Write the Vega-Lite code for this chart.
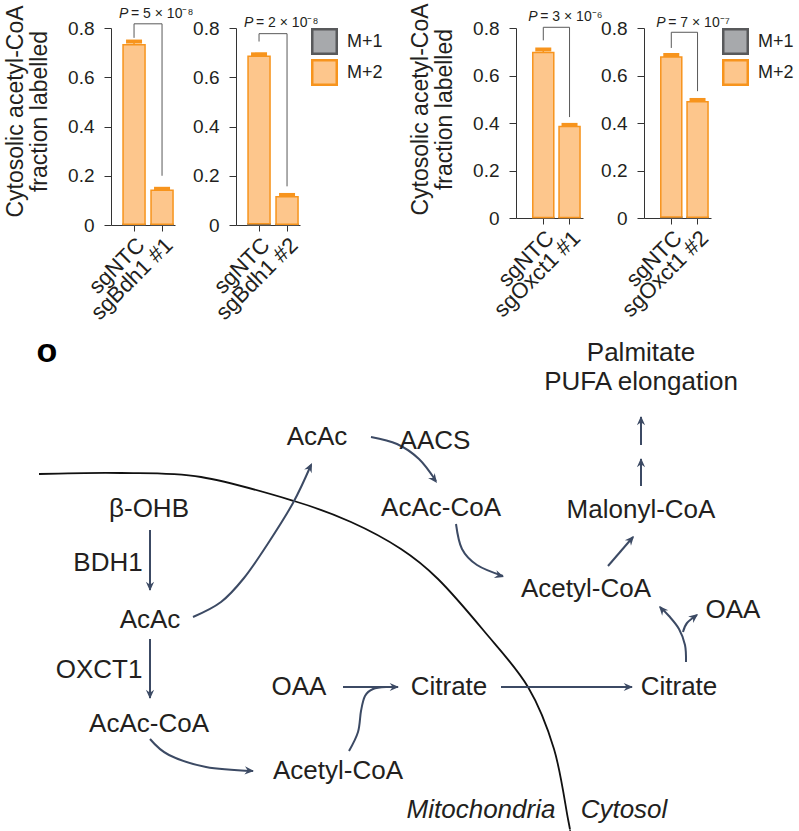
{
  "$schema": "https://vega.github.io/schema/vega-lite/v6.json",
  "padding": {"left": 4, "top": 2, "right": 0, "bottom": 0},
  "background": "white",
  "datasets": {
    "bars": [
      {"p": 1, "s": "sgNTC", "iso": "M+1", "k": 1, "v": 0.003},
      {"p": 1, "s": "sgNTC", "iso": "M+2", "k": 2, "v": 0.729},
      {"p": 1, "s": "sgBdh1 #1", "iso": "M+1", "k": 1, "v": 0.003},
      {"p": 1, "s": "sgBdh1 #1", "iso": "M+2", "k": 2, "v": 0.138},
      {"p": 2, "s": "sgNTC", "iso": "M+1", "k": 1, "v": 0.005},
      {"p": 2, "s": "sgNTC", "iso": "M+2", "k": 2, "v": 0.68},
      {"p": 2, "s": "sgBdh1 #2", "iso": "M+1", "k": 1, "v": 0.003},
      {"p": 2, "s": "sgBdh1 #2", "iso": "M+2", "k": 2, "v": 0.112},
      {"p": 3, "s": "sgNTC", "iso": "M+1", "k": 1, "v": 0.002},
      {"p": 3, "s": "sgNTC", "iso": "M+2", "k": 2, "v": 0.695},
      {"p": 3, "s": "sgOxct1 #1", "iso": "M+1", "k": 1, "v": 0.002},
      {"p": 3, "s": "sgOxct1 #1", "iso": "M+2", "k": 2, "v": 0.383},
      {"p": 4, "s": "sgNTC", "iso": "M+1", "k": 1, "v": 0.004},
      {"p": 4, "s": "sgNTC", "iso": "M+2", "k": 2, "v": 0.674},
      {"p": 4, "s": "sgOxct1 #2", "iso": "M+1", "k": 1, "v": 0.003},
      {"p": 4, "s": "sgOxct1 #2", "iso": "M+2", "k": 2, "v": 0.486}
    ],
    "err": [
      {"p": 1, "s": "sgNTC", "lo": 0.732, "hi": 0.745},
      {"p": 1, "s": "sgBdh1 #1", "lo": 0.141, "hi": 0.147},
      {"p": 2, "s": "sgNTC", "lo": 0.685, "hi": 0.693},
      {"p": 2, "s": "sgBdh1 #2", "lo": 0.115, "hi": 0.122},
      {"p": 3, "s": "sgNTC", "lo": 0.697, "hi": 0.709},
      {"p": 3, "s": "sgOxct1 #1", "lo": 0.385, "hi": 0.392},
      {"p": 4, "s": "sgNTC", "lo": 0.678, "hi": 0.686},
      {"p": 4, "s": "sgOxct1 #2", "lo": 0.489, "hi": 0.497}
    ],
    "brk": [
      {"p": 1, "s1": "sgNTC", "s2": "sgBdh1 #1", "top": 0.817, "yl": 0.76, "yr": 0.2, "yt": 0.84, "pv": "= 5 × 10⁻⁸"},
      {"p": 2, "s1": "sgNTC", "s2": "sgBdh1 #2", "top": 0.777, "yl": 0.745, "yr": 0.157, "yt": 0.805, "pv": "= 2 × 10⁻⁸"},
      {"p": 3, "s1": "sgNTC", "s2": "sgOxct1 #1", "top": 0.803, "yl": 0.748, "yr": 0.425, "yt": 0.828, "pv": "= 3 × 10⁻⁶"},
      {"p": 4, "s1": "sgNTC", "s2": "sgOxct1 #2", "top": 0.782, "yl": 0.716, "yr": 0.534, "yt": 0.803, "pv": "= 7 × 10⁻⁷"}
    ],
    "paths": [
      {"g": 1, "i": 0, "x": 149, "y": 531}, {"g": 1, "i": 1, "x": 149, "y": 591},
      {"g": 2, "i": 0, "x": 149, "y": 640}, {"g": 2, "i": 1, "x": 149, "y": 699},
      {"g": 3, "i": 0, "x": 192, "y": 618}, {"g": 3, "i": 1, "x": 220, "y": 603}, {"g": 3, "i": 2, "x": 243, "y": 579}, {"g": 3, "i": 3, "x": 266, "y": 546}, {"g": 3, "i": 4, "x": 292, "y": 504}, {"g": 3, "i": 5, "x": 310, "y": 466},
      {"g": 4, "i": 0, "x": 370, "y": 438}, {"g": 4, "i": 1, "x": 396, "y": 445}, {"g": 4, "i": 2, "x": 418, "y": 460}, {"g": 4, "i": 3, "x": 435, "y": 482},
      {"g": 5, "i": 0, "x": 455, "y": 525}, {"g": 5, "i": 1, "x": 461, "y": 550}, {"g": 5, "i": 2, "x": 476, "y": 566}, {"g": 5, "i": 3, "x": 502, "y": 577},
      {"g": 6, "i": 0, "x": 607, "y": 567}, {"g": 6, "i": 1, "x": 632, "y": 538},
      {"g": 7, "i": 0, "x": 640, "y": 487}, {"g": 7, "i": 1, "x": 640, "y": 460},
      {"g": 8, "i": 0, "x": 640, "y": 446}, {"g": 8, "i": 1, "x": 640, "y": 418},
      {"g": 9, "i": 0, "x": 149, "y": 740}, {"g": 9, "i": 1, "x": 168, "y": 756}, {"g": 9, "i": 2, "x": 205, "y": 768}, {"g": 9, "i": 3, "x": 252, "y": 772},
      {"g": 10, "i": 0, "x": 342, "y": 688}, {"g": 10, "i": 1, "x": 397, "y": 688},
      {"g": 11, "i": 0, "x": 348, "y": 752}, {"g": 11, "i": 1, "x": 357, "y": 733}, {"g": 11, "i": 2, "x": 360, "y": 712}, {"g": 11, "i": 3, "x": 364, "y": 697}, {"g": 11, "i": 4, "x": 372, "y": 690}, {"g": 11, "i": 5, "x": 385, "y": 688},
      {"g": 12, "i": 0, "x": 500, "y": 688}, {"g": 12, "i": 1, "x": 631, "y": 688},
      {"g": 13, "i": 0, "x": 685, "y": 663}, {"g": 13, "i": 1, "x": 684, "y": 646}, {"g": 13, "i": 2, "x": 678, "y": 630}, {"g": 13, "i": 3, "x": 668, "y": 617}, {"g": 13, "i": 4, "x": 659, "y": 608},
      {"g": 14, "i": 0, "x": 682, "y": 633}, {"g": 14, "i": 1, "x": 686, "y": 624}, {"g": 14, "i": 2, "x": 696, "y": 616}
    ],
    "heads": [
      {"x": 149, "y": 592, "a": 180}, {"x": 149, "y": 700, "a": 180},
      {"x": 311, "y": 464, "a": 26}, {"x": 436, "y": 484, "a": 143},
      {"x": 503, "y": 578, "a": 108}, {"x": 633, "y": 537, "a": 41},
      {"x": 640, "y": 459, "a": 0}, {"x": 640, "y": 417, "a": 0},
      {"x": 253, "y": 772, "a": 94}, {"x": 398, "y": 688, "a": 90},
      {"x": 632, "y": 688, "a": 90}, {"x": 658, "y": 607, "a": 318},
      {"x": 697, "y": 615, "a": 52}
    ],
    "membrane": [
      {"i": 0, "x": 38, "y": 475}, {"i": 1, "x": 120, "y": 474}, {"i": 2, "x": 200, "y": 478},
      {"i": 3, "x": 293, "y": 502}, {"i": 4, "x": 350, "y": 523}, {"i": 5, "x": 400, "y": 550},
      {"i": 6, "x": 437, "y": 580}, {"i": 7, "x": 483, "y": 632}, {"i": 8, "x": 527, "y": 688},
      {"i": 9, "x": 553, "y": 750}, {"i": 10, "x": 567, "y": 820}, {"i": 11, "x": 569, "y": 831}
    ],
    "labels": [
      {"t": "AcAc", "x": 316, "y": 438}, {"t": "AACS", "x": 434, "y": 442},
      {"t": "AcAc-CoA", "x": 440, "y": 509}, {"t": "Palmitate", "x": 640, "y": 354},
      {"t": "PUFA elongation", "x": 640, "y": 383}, {"t": "Malonyl-CoA", "x": 640, "y": 511},
      {"t": "Acetyl-CoA", "x": 585, "y": 590}, {"t": "OAA", "x": 732, "y": 611},
      {"t": "Citrate", "x": 678, "y": 688}, {"t": "Citrate", "x": 448, "y": 688},
      {"t": "OAA", "x": 298, "y": 688}, {"t": "Acetyl-CoA", "x": 337, "y": 772},
      {"t": "AcAc-CoA", "x": 148, "y": 725}, {"t": "OXCT1", "x": 98, "y": 671},
      {"t": "AcAc", "x": 149, "y": 621}, {"t": "BDH1", "x": 107, "y": 564},
      {"t": "β-OHB", "x": 148, "y": 510}
    ],
    "italic": [
      {"t": "Mitochondria", "x": 480, "y": 811}, {"t": "Cytosol", "x": 623, "y": 811}
    ],
    "panel": [
      {"t": "o", "x": 46, "y": 353}
    ]
  },
  "spacing": 10,
  "vconcat": [
    {
      "spacing": 61,
      "bounds": "flush",
      "resolve": {
        "scale": {"fill": "independent", "stroke": "independent"},
        "legend": {"fill": "independent", "stroke": "independent"}
      },
      "hconcat": [
        {
          "width": 64, "height": 197,
          "layer": [
            {"data": {"name": "bars"}, "transform": [{"filter": "datum.p == 1"}],
             "mark": {"type": "bar", "strokeWidth": 1.5},
             "encoding": {
               "x": {"field": "s", "type": "nominal", "scale": {"domain": ["sgNTC", "sgBdh1 #1"], "paddingInner": 0.214, "paddingOuter": 0.25, "align": 0.86}, "axis": {"title": null}},
               "y": {"field": "v", "type": "quantitative", "stack": "zero", "scale": {"domain": [0, 0.8], "nice": false},
                     "axis": {"values": [0, 0.2, 0.4, 0.6, 0.8], "labelExpr": "datum.value == 0 ? '0' : format(datum.value, '.1f')", "title": ["Cytosolic acetyl-CoA", "fraction labelled"], "titleY": 83}},
               "fill": {"field": "iso", "type": "nominal", "scale": {"domain": ["M+1", "M+2"], "range": ["#A7A9AC", "#FDC68C"]}, "legend": null},
               "stroke": {"field": "iso", "type": "nominal", "scale": {"domain": ["M+1", "M+2"], "range": ["#58595B", "#F7941D"]}, "legend": null},
               "order": {"field": "k", "type": "quantitative"}
             }},
            {"data": {"name": "err"}, "transform": [{"filter": "datum.p == 1"}],
             "mark": {"type": "rule", "color": "#F7941D", "strokeWidth": 1.5},
             "encoding": {"x": {"field": "s", "type": "nominal", "scale": {"domain": ["sgNTC", "sgBdh1 #1"]}}, "y": {"field": "lo", "type": "quantitative", "scale": {"domain": [0, 0.8], "nice": false}}, "y2": {"field": "hi"}}},
            {"data": {"name": "err"}, "transform": [{"filter": "datum.p == 1"}],
             "mark": {"type": "tick", "color": "#F7941D", "thickness": 4, "size": 16, "opacity": 1},
             "encoding": {"x": {"field": "s", "type": "nominal", "scale": {"domain": ["sgNTC", "sgBdh1 #1"]}}, "y": {"field": "hi", "type": "quantitative", "scale": {"domain": [0, 0.8], "nice": false}}}},
            {"data": {"name": "brk"}, "transform": [{"filter": "datum.p == 1"}],
             "mark": {"type": "rule", "color": "#595959", "strokeWidth": 1},
             "encoding": {"x": {"field": "s1", "type": "nominal", "scale": {"domain": ["sgNTC", "sgBdh1 #1"]}}, "x2": {"field": "s2"}, "y": {"field": "top", "type": "quantitative", "scale": {"domain": [0, 0.8], "nice": false}}}},
            {"data": {"name": "brk"}, "transform": [{"filter": "datum.p == 1"}],
             "mark": {"type": "rule", "color": "#595959", "strokeWidth": 1},
             "encoding": {"x": {"field": "s1", "type": "nominal", "scale": {"domain": ["sgNTC", "sgBdh1 #1"]}}, "y": {"field": "yl", "type": "quantitative", "scale": {"domain": [0, 0.8], "nice": false}}, "y2": {"field": "top"}}},
            {"data": {"name": "brk"}, "transform": [{"filter": "datum.p == 1"}],
             "mark": {"type": "rule", "color": "#595959", "strokeWidth": 1},
             "encoding": {"x": {"field": "s2", "type": "nominal", "scale": {"domain": ["sgNTC", "sgBdh1 #1"]}}, "y": {"field": "yr", "type": "quantitative", "scale": {"domain": [0, 0.8], "nice": false}}, "y2": {"field": "top"}}},
            {"data": {"name": "brk"}, "transform": [{"filter": "datum.p == 1"}],
             "mark": {"type": "text", "align": "left", "dx": -15, "baseline": "alphabetic", "fontSize": 14, "fontStyle": "italic", "color": "#231F20"},
             "encoding": {"x": {"field": "s1", "type": "nominal", "scale": {"domain": ["sgNTC", "sgBdh1 #1"]}}, "y": {"field": "yt", "type": "quantitative", "scale": {"domain": [0, 0.8], "nice": false}}, "text": {"value": "P"}}},
            {"data": {"name": "brk"}, "transform": [{"filter": "datum.p == 1"}],
             "mark": {"type": "text", "align": "left", "dx": -3, "baseline": "alphabetic", "fontSize": 14, "color": "#231F20"},
             "encoding": {"x": {"field": "s1", "type": "nominal", "scale": {"domain": ["sgNTC", "sgBdh1 #1"]}}, "y": {"field": "yt", "type": "quantitative", "scale": {"domain": [0, 0.8], "nice": false}}, "text": {"field": "pv"}}}
          ]
        },
        {
          "width": 64, "height": 197,
          "layer": [
            {"data": {"name": "bars"}, "transform": [{"filter": "datum.p == 2"}],
             "mark": {"type": "bar", "strokeWidth": 1.5},
             "encoding": {
               "x": {"field": "s", "type": "nominal", "scale": {"domain": ["sgNTC", "sgBdh1 #2"], "paddingInner": 0.214, "paddingOuter": 0.25, "align": 0.86}, "axis": {"title": null}},
               "y": {"field": "v", "type": "quantitative", "stack": "zero", "scale": {"domain": [0, 0.8], "nice": false},
                     "axis": {"values": [0, 0.2, 0.4, 0.6, 0.8], "labelExpr": "datum.value == 0 ? '0' : format(datum.value, '.1f')", "title": null}},
               "fill": {"field": "iso", "type": "nominal", "scale": {"domain": ["M+1", "M+2"], "range": ["#A7A9AC", "#FDC68C"]}, "legend": {"title": null}},
               "stroke": {"field": "iso", "type": "nominal", "scale": {"domain": ["M+1", "M+2"], "range": ["#58595B", "#F7941D"]}, "legend": {"title": null}},
               "order": {"field": "k", "type": "quantitative"}
             }},
            {"data": {"name": "err"}, "transform": [{"filter": "datum.p == 2"}],
             "mark": {"type": "rule", "color": "#F7941D", "strokeWidth": 1.5},
             "encoding": {"x": {"field": "s", "type": "nominal", "scale": {"domain": ["sgNTC", "sgBdh1 #2"]}}, "y": {"field": "lo", "type": "quantitative", "scale": {"domain": [0, 0.8], "nice": false}}, "y2": {"field": "hi"}}},
            {"data": {"name": "err"}, "transform": [{"filter": "datum.p == 2"}],
             "mark": {"type": "tick", "color": "#F7941D", "thickness": 4, "size": 16, "opacity": 1},
             "encoding": {"x": {"field": "s", "type": "nominal", "scale": {"domain": ["sgNTC", "sgBdh1 #2"]}}, "y": {"field": "hi", "type": "quantitative", "scale": {"domain": [0, 0.8], "nice": false}}}},
            {"data": {"name": "brk"}, "transform": [{"filter": "datum.p == 2"}],
             "mark": {"type": "rule", "color": "#595959", "strokeWidth": 1},
             "encoding": {"x": {"field": "s1", "type": "nominal", "scale": {"domain": ["sgNTC", "sgBdh1 #2"]}}, "x2": {"field": "s2"}, "y": {"field": "top", "type": "quantitative", "scale": {"domain": [0, 0.8], "nice": false}}}},
            {"data": {"name": "brk"}, "transform": [{"filter": "datum.p == 2"}],
             "mark": {"type": "rule", "color": "#595959", "strokeWidth": 1},
             "encoding": {"x": {"field": "s1", "type": "nominal", "scale": {"domain": ["sgNTC", "sgBdh1 #2"]}}, "y": {"field": "yl", "type": "quantitative", "scale": {"domain": [0, 0.8], "nice": false}}, "y2": {"field": "top"}}},
            {"data": {"name": "brk"}, "transform": [{"filter": "datum.p == 2"}],
             "mark": {"type": "rule", "color": "#595959", "strokeWidth": 1},
             "encoding": {"x": {"field": "s2", "type": "nominal", "scale": {"domain": ["sgNTC", "sgBdh1 #2"]}}, "y": {"field": "yr", "type": "quantitative", "scale": {"domain": [0, 0.8], "nice": false}}, "y2": {"field": "top"}}},
            {"data": {"name": "brk"}, "transform": [{"filter": "datum.p == 2"}],
             "mark": {"type": "text", "align": "left", "dx": -15, "baseline": "alphabetic", "fontSize": 14, "fontStyle": "italic", "color": "#231F20"},
             "encoding": {"x": {"field": "s1", "type": "nominal", "scale": {"domain": ["sgNTC", "sgBdh1 #2"]}}, "y": {"field": "yt", "type": "quantitative", "scale": {"domain": [0, 0.8], "nice": false}}, "text": {"value": "P"}}},
            {"data": {"name": "brk"}, "transform": [{"filter": "datum.p == 2"}],
             "mark": {"type": "text", "align": "left", "dx": -3, "baseline": "alphabetic", "fontSize": 14, "color": "#231F20"},
             "encoding": {"x": {"field": "s1", "type": "nominal", "scale": {"domain": ["sgNTC", "sgBdh1 #2"]}}, "y": {"field": "yt", "type": "quantitative", "scale": {"domain": [0, 0.8], "nice": false}}, "text": {"field": "pv"}}}
          ]
        },
        {
          "width": 94, "height": 190,
          "data": {"values": []},
          "mark": {"type": "point"}
        },
        {
          "width": 67, "height": 190,
          "layer": [
            {"data": {"name": "bars"}, "transform": [{"filter": "datum.p == 3"}],
             "mark": {"type": "bar", "strokeWidth": 1.5},
             "encoding": {
               "x": {"field": "s", "type": "nominal", "scale": {"domain": ["sgNTC", "sgOxct1 #1"], "paddingInner": 0.2, "paddingOuter": 0.376, "align": 0.85}, "axis": {"title": null}},
               "y": {"field": "v", "type": "quantitative", "stack": "zero", "scale": {"domain": [0, 0.8], "nice": false},
                     "axis": {"values": [0, 0.2, 0.4, 0.6, 0.8], "labelExpr": "datum.value == 0 ? '0' : format(datum.value, '.1f')", "title": ["Cytosolic acetyl-CoA", "fraction labelled"], "titleY": 81}},
               "fill": {"field": "iso", "type": "nominal", "scale": {"domain": ["M+1", "M+2"], "range": ["#A7A9AC", "#FDC68C"]}, "legend": null},
               "stroke": {"field": "iso", "type": "nominal", "scale": {"domain": ["M+1", "M+2"], "range": ["#58595B", "#F7941D"]}, "legend": null},
               "order": {"field": "k", "type": "quantitative"}
             }},
            {"data": {"name": "err"}, "transform": [{"filter": "datum.p == 3"}],
             "mark": {"type": "rule", "color": "#F7941D", "strokeWidth": 1.5},
             "encoding": {"x": {"field": "s", "type": "nominal", "scale": {"domain": ["sgNTC", "sgOxct1 #1"]}}, "y": {"field": "lo", "type": "quantitative", "scale": {"domain": [0, 0.8], "nice": false}}, "y2": {"field": "hi"}}},
            {"data": {"name": "err"}, "transform": [{"filter": "datum.p == 3"}],
             "mark": {"type": "tick", "color": "#F7941D", "thickness": 4, "size": 16, "opacity": 1},
             "encoding": {"x": {"field": "s", "type": "nominal", "scale": {"domain": ["sgNTC", "sgOxct1 #1"]}}, "y": {"field": "hi", "type": "quantitative", "scale": {"domain": [0, 0.8], "nice": false}}}},
            {"data": {"name": "brk"}, "transform": [{"filter": "datum.p == 3"}],
             "mark": {"type": "rule", "color": "#595959", "strokeWidth": 1},
             "encoding": {"x": {"field": "s1", "type": "nominal", "scale": {"domain": ["sgNTC", "sgOxct1 #1"]}}, "x2": {"field": "s2"}, "y": {"field": "top", "type": "quantitative", "scale": {"domain": [0, 0.8], "nice": false}}}},
            {"data": {"name": "brk"}, "transform": [{"filter": "datum.p == 3"}],
             "mark": {"type": "rule", "color": "#595959", "strokeWidth": 1},
             "encoding": {"x": {"field": "s1", "type": "nominal", "scale": {"domain": ["sgNTC", "sgOxct1 #1"]}}, "y": {"field": "yl", "type": "quantitative", "scale": {"domain": [0, 0.8], "nice": false}}, "y2": {"field": "top"}}},
            {"data": {"name": "brk"}, "transform": [{"filter": "datum.p == 3"}],
             "mark": {"type": "rule", "color": "#595959", "strokeWidth": 1},
             "encoding": {"x": {"field": "s2", "type": "nominal", "scale": {"domain": ["sgNTC", "sgOxct1 #1"]}}, "y": {"field": "yr", "type": "quantitative", "scale": {"domain": [0, 0.8], "nice": false}}, "y2": {"field": "top"}}},
            {"data": {"name": "brk"}, "transform": [{"filter": "datum.p == 3"}],
             "mark": {"type": "text", "align": "left", "dx": -15, "baseline": "alphabetic", "fontSize": 14, "fontStyle": "italic", "color": "#231F20"},
             "encoding": {"x": {"field": "s1", "type": "nominal", "scale": {"domain": ["sgNTC", "sgOxct1 #1"]}}, "y": {"field": "yt", "type": "quantitative", "scale": {"domain": [0, 0.8], "nice": false}}, "text": {"value": "P"}}},
            {"data": {"name": "brk"}, "transform": [{"filter": "datum.p == 3"}],
             "mark": {"type": "text", "align": "left", "dx": -3, "baseline": "alphabetic", "fontSize": 14, "color": "#231F20"},
             "encoding": {"x": {"field": "s1", "type": "nominal", "scale": {"domain": ["sgNTC", "sgOxct1 #1"]}}, "y": {"field": "yt", "type": "quantitative", "scale": {"domain": [0, 0.8], "nice": false}}, "text": {"field": "pv"}}}
          ]
        },
        {
          "width": 67, "height": 190,
          "layer": [
            {"data": {"name": "bars"}, "transform": [{"filter": "datum.p == 4"}],
             "mark": {"type": "bar", "strokeWidth": 1.5},
             "encoding": {
               "x": {"field": "s", "type": "nominal", "scale": {"domain": ["sgNTC", "sgOxct1 #2"], "paddingInner": 0.2, "paddingOuter": 0.376, "align": 0.85}, "axis": {"title": null}},
               "y": {"field": "v", "type": "quantitative", "stack": "zero", "scale": {"domain": [0, 0.8], "nice": false},
                     "axis": {"values": [0, 0.2, 0.4, 0.6, 0.8], "labelExpr": "datum.value == 0 ? '0' : format(datum.value, '.1f')", "title": null}},
               "fill": {"field": "iso", "type": "nominal", "scale": {"domain": ["M+1", "M+2"], "range": ["#A7A9AC", "#FDC68C"]}, "legend": {"title": null}},
               "stroke": {"field": "iso", "type": "nominal", "scale": {"domain": ["M+1", "M+2"], "range": ["#58595B", "#F7941D"]}, "legend": {"title": null}},
               "order": {"field": "k", "type": "quantitative"}
             }},
            {"data": {"name": "err"}, "transform": [{"filter": "datum.p == 4"}],
             "mark": {"type": "rule", "color": "#F7941D", "strokeWidth": 1.5},
             "encoding": {"x": {"field": "s", "type": "nominal", "scale": {"domain": ["sgNTC", "sgOxct1 #2"]}}, "y": {"field": "lo", "type": "quantitative", "scale": {"domain": [0, 0.8], "nice": false}}, "y2": {"field": "hi"}}},
            {"data": {"name": "err"}, "transform": [{"filter": "datum.p == 4"}],
             "mark": {"type": "tick", "color": "#F7941D", "thickness": 4, "size": 16, "opacity": 1},
             "encoding": {"x": {"field": "s", "type": "nominal", "scale": {"domain": ["sgNTC", "sgOxct1 #2"]}}, "y": {"field": "hi", "type": "quantitative", "scale": {"domain": [0, 0.8], "nice": false}}}},
            {"data": {"name": "brk"}, "transform": [{"filter": "datum.p == 4"}],
             "mark": {"type": "rule", "color": "#595959", "strokeWidth": 1},
             "encoding": {"x": {"field": "s1", "type": "nominal", "scale": {"domain": ["sgNTC", "sgOxct1 #2"]}}, "x2": {"field": "s2"}, "y": {"field": "top", "type": "quantitative", "scale": {"domain": [0, 0.8], "nice": false}}}},
            {"data": {"name": "brk"}, "transform": [{"filter": "datum.p == 4"}],
             "mark": {"type": "rule", "color": "#595959", "strokeWidth": 1},
             "encoding": {"x": {"field": "s1", "type": "nominal", "scale": {"domain": ["sgNTC", "sgOxct1 #2"]}}, "y": {"field": "yl", "type": "quantitative", "scale": {"domain": [0, 0.8], "nice": false}}, "y2": {"field": "top"}}},
            {"data": {"name": "brk"}, "transform": [{"filter": "datum.p == 4"}],
             "mark": {"type": "rule", "color": "#595959", "strokeWidth": 1},
             "encoding": {"x": {"field": "s2", "type": "nominal", "scale": {"domain": ["sgNTC", "sgOxct1 #2"]}}, "y": {"field": "yr", "type": "quantitative", "scale": {"domain": [0, 0.8], "nice": false}}, "y2": {"field": "top"}}},
            {"data": {"name": "brk"}, "transform": [{"filter": "datum.p == 4"}],
             "mark": {"type": "text", "align": "left", "dx": -15, "baseline": "alphabetic", "fontSize": 14, "fontStyle": "italic", "color": "#231F20"},
             "encoding": {"x": {"field": "s1", "type": "nominal", "scale": {"domain": ["sgNTC", "sgOxct1 #2"]}}, "y": {"field": "yt", "type": "quantitative", "scale": {"domain": [0, 0.8], "nice": false}}, "text": {"value": "P"}}},
            {"data": {"name": "brk"}, "transform": [{"filter": "datum.p == 4"}],
             "mark": {"type": "text", "align": "left", "dx": -3, "baseline": "alphabetic", "fontSize": 14, "color": "#231F20"},
             "encoding": {"x": {"field": "s1", "type": "nominal", "scale": {"domain": ["sgNTC", "sgOxct1 #2"]}}, "y": {"field": "yt", "type": "quantitative", "scale": {"domain": [0, 0.8], "nice": false}}, "text": {"field": "pv"}}}
          ]
        }
      ]
    },
    {
      "width": 670, "height": 496,
      "layer": [
        {"data": {"name": "membrane"},
         "mark": {"type": "line", "interpolate": "cardinal", "color": "#111111", "strokeWidth": 1.8},
         "encoding": {
           "x": {"field": "x", "type": "quantitative", "scale": {"domain": [110, 780], "nice": false, "zero": false}, "axis": null},
           "y": {"field": "y", "type": "quantitative", "scale": {"domain": [335, 831], "nice": false, "zero": false, "reverse": true}, "axis": null},
           "order": {"field": "i", "type": "quantitative"}
         }},
        {"data": {"name": "paths"},
         "mark": {"type": "line", "interpolate": "cardinal", "color": "#3C4A64", "strokeWidth": 2},
         "encoding": {
           "x": {"field": "x", "type": "quantitative", "scale": {"domain": [110, 780], "nice": false, "zero": false}, "axis": null},
           "y": {"field": "y", "type": "quantitative", "scale": {"domain": [335, 831], "nice": false, "zero": false, "reverse": true}, "axis": null},
           "detail": {"field": "g", "type": "nominal"},
           "order": {"field": "i", "type": "quantitative"}
         }},
        {"data": {"name": "heads"},
         "mark": {"type": "point", "shape": "M0,0L-0.75,1.7L0,1.15L0.75,1.7Z", "filled": true, "size": 120, "color": "#3C4A64", "opacity": 1, "strokeWidth": 0.5},
         "encoding": {
           "x": {"field": "x", "type": "quantitative", "scale": {"domain": [110, 780], "nice": false, "zero": false}, "axis": null},
           "y": {"field": "y", "type": "quantitative", "scale": {"domain": [335, 831], "nice": false, "zero": false, "reverse": true}, "axis": null},
           "angle": {"field": "a", "type": "quantitative", "scale": null}
         }},
        {"data": {"name": "labels"},
         "mark": {"type": "text", "fontSize": 26, "color": "#231F20", "baseline": "middle", "align": "center"},
         "encoding": {
           "x": {"field": "x", "type": "quantitative", "scale": {"domain": [110, 780], "nice": false, "zero": false}, "axis": null},
           "y": {"field": "y", "type": "quantitative", "scale": {"domain": [335, 831], "nice": false, "zero": false, "reverse": true}, "axis": null},
           "text": {"field": "t"}
         }},
        {"data": {"name": "italic"},
         "mark": {"type": "text", "fontSize": 26, "fontStyle": "italic", "color": "#231F20", "baseline": "middle", "align": "center"},
         "encoding": {
           "x": {"field": "x", "type": "quantitative", "scale": {"domain": [110, 780], "nice": false, "zero": false}, "axis": null},
           "y": {"field": "y", "type": "quantitative", "scale": {"domain": [335, 831], "nice": false, "zero": false, "reverse": true}, "axis": null},
           "text": {"field": "t"}
         }},
        {"data": {"name": "panel"},
         "mark": {"type": "text", "fontSize": 34, "fontWeight": "bold", "color": "#000000", "baseline": "middle", "align": "center"},
         "encoding": {
           "x": {"field": "x", "type": "quantitative", "scale": {"domain": [110, 780], "nice": false, "zero": false}, "axis": null},
           "y": {"field": "y", "type": "quantitative", "scale": {"domain": [335, 831], "nice": false, "zero": false, "reverse": true}, "axis": null},
           "text": {"field": "t"}
         }}
      ]
    }
  ],
  "config": {
    "font": "Liberation Sans",
    "view": {"stroke": null},
    "axis": {
      "domainColor": "#333333", "tickColor": "#333333", "labelColor": "#231F20", "titleColor": "#231F20",
      "labelFont": "Liberation Sans", "titleFont": "Liberation Sans",
      "labelFontSize": 19, "titleFontSize": 23, "titleFontWeight": "normal",
      "grid": false, "tickSize": 7, "domainWidth": 1, "tickWidth": 1
    },
    "axisX": {"labelAngle": -45, "labelFontSize": 22, "labelPadding": 3, "tickSize": 6},
    "axisY": {"labelPadding": 10, "titlePadding": 16, "titleLineHeight": 24},
    "legend": {
      "orient": "right", "offset": 11, "padding": 0, "symbolType": "square", "symbolSize": 600,
      "symbolStrokeWidth": 2.5, "labelFontSize": 18, "labelColor": "#231F20",
      "labelFont": "Liberation Sans", "rowPadding": -4, "labelOffset": 9
    }
  }
}
